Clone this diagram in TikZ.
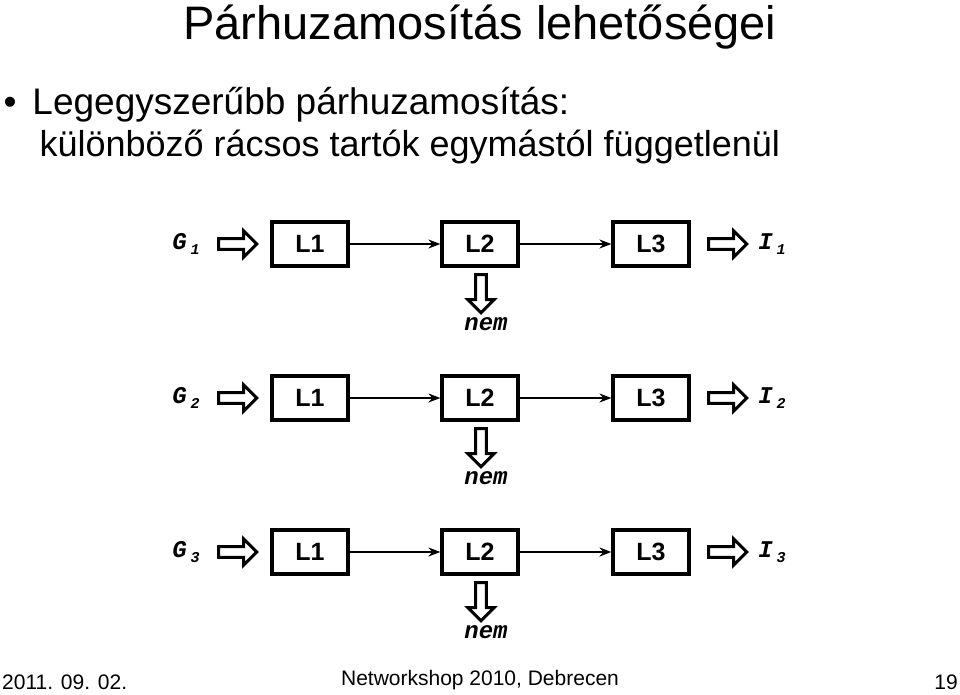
\documentclass[tikz,border=0pt]{standalone}
\usepackage{fontspec}
\setmainfont{Liberation Sans}
\newfontfamily\monofont{Liberation Mono}
\usetikzlibrary{shapes.arrows,arrows.meta}
\begin{document}
\begin{tikzpicture}
  [
    x=1pt, y=-1pt,
    stage/.style =
      {draw, line width=3.2pt, minimum width=76pt, minimum height=44pt,
       font=\fontsize{25}{25}\selectfont\bfseries},
    fat/.style =
      {single arrow, draw, line width=3pt, minimum height=38pt,
       minimum width=26pt, single arrow head extend=5pt, inner sep=2pt},
    lbl/.style =
      {font=\fontsize{24}{24}\selectfont\monofont\bfseries\itshape},
    link/.style =
      {-{Stealth[length=12pt, width=9pt]}, line width=1.6pt}
  ]
  \useasboundingbox (0,0) rectangle (960,695);
  \node at (480,27) {\fontsize{47}{47}\selectfont Párhuzamosítás lehetőségei};
  \node [anchor=west] at (0,105)
    {\fontsize{37}{37}\selectfont\textbullet\hspace{16pt}Legegyszerűbb párhuzamosítás:};
  \node [anchor=west] at (36,147)
    {\fontsize{36}{36}\selectfont különböző rácsos tartók egymástól függetlenül};
  \node [anchor=south west, inner sep=2pt] at (0,692) {\fontsize{21}{21}\selectfont 2011. 09. 02.};
  \node [anchor=south, inner sep=2pt] at (480,692) {\fontsize{21}{21}\selectfont Networkshop 2010, Debrecen};
  \node [anchor=south east, inner sep=2pt] at (960,692) {\fontsize{21}{21}\selectfont 19};

  \foreach \i/\y in {1/244, 2/398, 3/552}
  {
    \node [lbl] at (186,\y) (g\i) {G\,\raisebox{-5pt}{\fontsize{15}{15}\selectfont\i}};
    \node [fat] at (235,\y) (ga\i) {};
    \node [stage] at (310,\y) (a\i) {L1};
    \node [stage] at (480,\y) (b\i) {L2};
    \node [stage] at (651,\y) (c\i) {L3};
    \node [fat] at (725,\y) (ia\i) {};
    \node [lbl] at (772,\y) (i\i) {I\,\raisebox{-5pt}{\fontsize{15}{15}\selectfont\i}};
    \node [fat, rotate=-90] at (481,\y+47) (na\i) {};
    \node [lbl] at (486,\y+80) (n\i) {nem};
    \draw [link] (a\i.east) -- (b\i.west);
    \draw [link] (b\i.east) -- (c\i.west);
  }
\end{tikzpicture}
\end{document}
